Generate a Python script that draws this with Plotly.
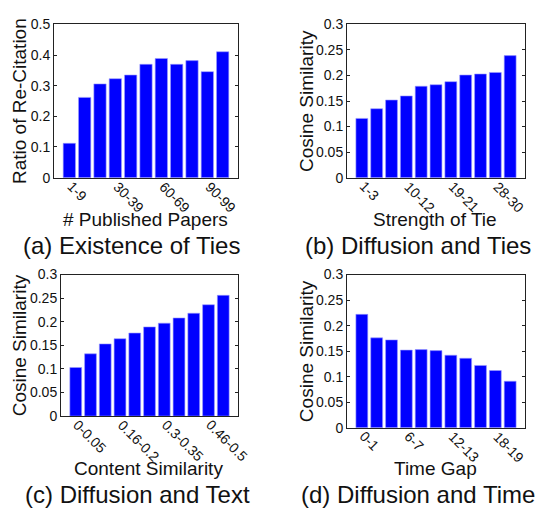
import plotly.graph_objects as go

W, H = 538, 521

# ---- data ----
papers_cats = ["1-9", "10-19", "20-29", "30-39", "40-49", "50-59", "60-69",
               "70-79", "80-89", "90-99", "100-109"]
papers_vals = [0.112, 0.262, 0.306, 0.323, 0.335, 0.370, 0.389, 0.370, 0.382, 0.346, 0.411]

tie_cats = ["1-3", "4-6", "7-9", "10-12", "13-15", "16-18", "19-21",
            "22-24", "25-27", "28-30", "31-33"]
tie_vals = [0.116, 0.135, 0.152, 0.160, 0.179, 0.182, 0.188, 0.201, 0.203, 0.206, 0.239]

text_cats = ["0-0.05", "0.06-0.1", "0.11-0.15", "0.16-0.2", "0.21-0.25", "0.26-0.29",
             "0.3-0.35", "0.36-0.4", "0.41-0.45", "0.46-0.5", "0.51-0.55"]
text_vals = [0.103, 0.132, 0.153, 0.164, 0.176, 0.189, 0.197, 0.208, 0.218, 0.236, 0.256]

time_cats = ["0-1", "2-3", "4-5", "6-7", "8-9", "10-11", "12-13",
             "14-15", "16-17", "18-19", "20-21"]
time_vals = [0.222, 0.176, 0.172, 0.152, 0.153, 0.151, 0.142, 0.136, 0.122, 0.112, 0.091]

shown_ticks = [0, 3, 6, 9]

panels = [
    dict(cats=papers_cats, vals=papers_vals, ymax=0.5, ytick=0.1,
         xtitle="# Published Papers", ytitle="Ratio of Re-Citation",
         caption="(a) Existence of Ties",
         box=(54, 238, 17, 175), ytx=19, xty=218, capx=131, capy=245),
    dict(cats=tie_cats, vals=tie_vals, ymax=0.3, ytick=0.05,
         xtitle="Strength of Tie", ytitle="Cosine Similarity",
         caption="(b) Diffusion and Ties",
         box=(347, 525, 17, 175), ytx=306, xty=218, capx=418, capy=245),
    dict(cats=text_cats, vals=text_vals, ymax=0.3, ytick=0.05,
         xtitle="Content Similarity", ytitle="Cosine Similarity",
         caption="(c) Diffusion and Text",
         box=(61, 238, 275, 421), ytx=19, xty=475, capx=137, capy=502),
    dict(cats=time_cats, vals=time_vals, ymax=0.3, ytick=0.05,
         xtitle="Time Gap", ytitle="Cosine Similarity",
         caption="(d) Diffusion and Time",
         box=(347, 525, 275, 433), ytx=306, xty=475, capx=418, capy=502),
]

FONT = "Liberation Sans, Arial, Helvetica, sans-serif"
fig = go.Figure()
annotations = []
layout = {}
for i, p in enumerate(panels):
    n = "" if i == 0 else str(i + 1)
    x0, x1, y0, y1 = p["box"]
    fig.add_trace(go.Bar(x=p["cats"], y=p["vals"], xaxis="x" + n, yaxis="y" + n,
                         marker=dict(color="#0000ff", line=dict(color="#9a9aff", width=0.6)),
                         showlegend=False))
    ntick = round(p["ymax"] / p["ytick"])
    yvals = [round(k * p["ytick"], 2) for k in range(ntick + 1)]
    ytext = [("%g" % v) for v in yvals]
    layout["xaxis" + n] = dict(
        domain=[x0 / W, x1 / W], anchor="y" + n, type="category",
        categoryorder="array", categoryarray=p["cats"],
        range=[-1, len(p["cats"])], showticklabels=False,
        ticks="", showline=True, mirror=True,
        linecolor="#222", linewidth=1, showgrid=False, zeroline=False, fixedrange=True)
    layout["yaxis" + n] = dict(
        domain=[1 - y1 / H, 1 - y0 / H], anchor="x" + n,
        range=[0, p["ymax"]], tickmode="array", tickvals=yvals, ticktext=ytext,
        ticks="inside", ticklen=3, tickcolor="#222", showline=True, mirror="ticks",
        linecolor="#222", linewidth=1, showgrid=False, zeroline=False,
        tickfont=dict(family=FONT, size=14, color="#111"), fixedrange=True)
    # rotated category tick labels, placed on the category axis
    for k in shown_ticks:
        annotations.append(dict(text=p["cats"][k], x=p["cats"][k], y=0,
                                xref="x" + n, yref="y" + n + " domain",
                                showarrow=False, textangle=45,
                                xanchor="left", yanchor="top", xshift=-8, yshift=2,
                                font=dict(family=FONT, size=14, color="#111")))
    annotations.append(dict(text=p["ytitle"], x=p["ytx"] / W, y=1 - ((y0 + y1) / 2) / H,
                            xref="paper", yref="paper", showarrow=False, textangle=-90,
                            xanchor="center", yanchor="middle",
                            font=dict(family=FONT, size=19, color="#111")))
    annotations.append(dict(text=p["xtitle"], x=((x0 + x1) / 2 - 1) / W, y=1 - p["xty"] / H,
                            xref="paper", yref="paper", showarrow=False,
                            xanchor="center", yanchor="middle",
                            font=dict(family=FONT, size=19, color="#111")))
    annotations.append(dict(text=p["caption"], x=p["capx"] / W, y=1 - p["capy"] / H,
                            xref="paper", yref="paper", showarrow=False,
                            xanchor="center", yanchor="middle",
                            font=dict(family=FONT, size=24, color="#111")))

fig.update_layout(width=W, height=H, margin=dict(l=0, r=0, t=0, b=0),
                  paper_bgcolor="white", plot_bgcolor="white", bargap=0.2,
                  annotations=annotations, **layout)
fig.write_html("out.html", config={"displayModeBar": False},
               post_script="document.body.style.margin='0';document.body.style.overflow='hidden';")
